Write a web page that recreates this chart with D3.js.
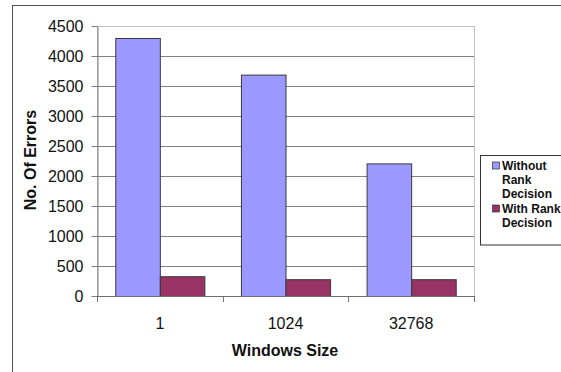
<!DOCTYPE html>
<html>
<head>
<meta charset="utf-8">
<script src="https://cdn.jsdelivr.net/npm/d3@7/dist/d3.min.js"></script>
<style>
  html, body { margin: 0; padding: 0; background: #fff; }
  svg { display: block; font-family: "Liberation Sans", Arial, sans-serif; }
</style>
</head>
<body>
<svg id="chart" width="561" height="372"></svg>
<script>
// Window sizes and error counts for each decision mode
const categories = ["1", "1024", "32768"];
const seriesNames = ["Without Rank Decision", "With Rank Decision"];
const withoutRank = [4300, 3690, 2210];
const withRank = [330, 280, 280];
const yTicks = [0, 500, 1000, 1500, 2000, 2500, 3000, 3500, 4000, 4500];
const legendLines = [["Without", "Rank", "Decision"], ["With Rank", "Decision"]];
const colors = ["#9999ff", "#993366"];

const rows = categories.map((c, i) => ({ cat: c, values: [withoutRank[i], withRank[i]] }));

const svg = d3.select("#chart");
const plot = { left: 97, right: 474, top: 26, bottom: 296 };

// outer chart frame
svg.append("rect")
  .attr("x", 12.5).attr("y", 5.5)
  .attr("width", 600).attr("height", 400)
  .attr("fill", "#fff").attr("stroke", "#505050").attr("stroke-width", 1);

const y = d3.scaleLinear().domain([0, 4500]).range([plot.bottom, plot.top]);
const x0 = d3.scaleBand().domain(categories).range([plot.left, plot.right]).padding(0);
const x1 = d3.scaleBand().domain(d3.range(seriesNames.length))
  .range([0, x0.bandwidth()]).paddingInner(0).paddingOuter(0.41);

// plot area border
svg.append("rect")
  .attr("x", plot.left + 0.5).attr("y", y(4500) + 0.5)
  .attr("width", plot.right - plot.left).attr("height", plot.bottom - y(4500))
  .attr("fill", "#fff").attr("stroke", "#c0c0c0");

// horizontal gridlines
svg.append("g").selectAll("line")
  .data(yTicks.filter(t => t > 0 && t < 4500))
  .join("line")
  .attr("x1", plot.left).attr("x2", plot.right)
  .attr("y1", d => Math.round(y(d)) + 0.5).attr("y2", d => Math.round(y(d)) + 0.5)
  .attr("stroke", "#808080");

// bars
const groups = svg.append("g").selectAll("g")
  .data(rows).join("g")
  .attr("transform", d => `translate(${x0(d.cat)},0)`);
groups.selectAll("rect")
  .data(d => d.values.map((v, i) => ({ v, i })))
  .join("rect")
  .attr("x", d => x1(d.i) + 0.5)
  .attr("y", d => y(d.v) + 0.5)
  .attr("width", x1.bandwidth())
  .attr("height", d => y(0) - y(d.v))
  .attr("fill", d => colors[d.i])
  .attr("stroke", "#3a3a3a").attr("stroke-width", 1);

// y axis
const yAxis = svg.append("g")
  .attr("transform", `translate(${plot.left + 0.5},0)`)
  .call(d3.axisLeft(y).tickValues(yTicks).tickFormat(d3.format("d"))
    .tickSize(6).tickPadding(8).tickSizeOuter(0));
yAxis.selectAll("path, line").attr("stroke", "#808080");
yAxis.selectAll("text")
  .attr("font-size", 16).attr("fill", "#111")
  .attr("font-family", "Liberation Sans, Arial, sans-serif");

// x axis line and boundary ticks
svg.append("line")
  .attr("x1", plot.left).attr("x2", plot.right + 1)
  .attr("y1", plot.bottom + 0.5).attr("y2", plot.bottom + 0.5)
  .attr("stroke", "#707070");
const boundaries = categories.map(c => x0(c)).concat([x0(categories[categories.length - 1]) + x0.bandwidth()]);
svg.append("g").selectAll("line")
  .data(boundaries).join("line")
  .attr("x1", d => Math.round(d) + 0.5).attr("x2", d => Math.round(d) + 0.5)
  .attr("y1", plot.bottom).attr("y2", plot.bottom + 6)
  .attr("stroke", "#707070");

const xAxis = svg.append("g")
  .attr("transform", `translate(0,${plot.bottom})`)
  .call(d3.axisBottom(x0).tickSize(0).tickPadding(22));
xAxis.select(".domain").remove();
xAxis.selectAll("text")
  .attr("font-size", 16).attr("fill", "#111")
  .attr("font-family", "Liberation Sans, Arial, sans-serif");

// axis titles
svg.append("text")
  .attr("x", 285).attr("y", 356)
  .attr("text-anchor", "middle")
  .attr("font-size", 16).attr("font-weight", "bold").attr("fill", "#111")
  .text("Windows Size");
svg.append("text")
  .attr("transform", "translate(36,160) rotate(-90)")
  .attr("text-anchor", "middle")
  .attr("font-size", 16).attr("font-weight", "bold").attr("fill", "#111")
  .text("No. Of Errors");

// legend
const legend = svg.append("g");
legend.append("rect")
  .attr("x", 480.5).attr("y", 155.5)
  .attr("width", 120).attr("height", 89.5)
  .attr("fill", "#fff").attr("stroke", "#333");
const baselines = [[169.5, 183.5, 197.5], [212.5, 226.5]];
legendLines.forEach((lines, i) => {
  legend.append("rect")
    .attr("x", 492.5).attr("y", baselines[i][0] - 7.5)
    .attr("width", 7).attr("height", 7)
    .attr("fill", colors[i]).attr("stroke", "#333").attr("stroke-width", 0.7);
  lines.forEach((t, j) => {
    legend.append("text")
      .attr("x", 502).attr("y", baselines[i][j])
      .attr("font-size", 12).attr("font-weight", "bold").attr("fill", "#111")
      .text(t);
  });
});
</script>
</body>
</html>
